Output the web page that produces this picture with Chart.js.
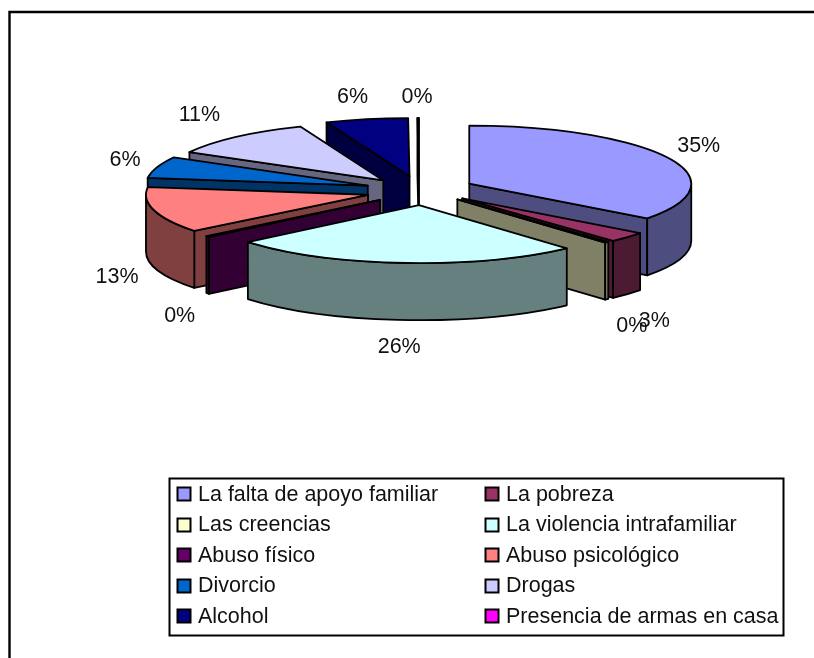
<!DOCTYPE html>
<html><head><meta charset="utf-8">
<style>html,body{margin:0;padding:0;background:#fff}canvas{display:block}</style>
<script src="https://cdn.jsdelivr.net/npm/chart.js@4"></script>
</head><body><canvas id="c" width="814" height="658"></canvas>
<script>
const categories = ["La falta de apoyo familiar","La pobreza","Las creencias","La violencia intrafamiliar","Abuso físico","Abuso psicológico","Divorcio","Drogas","Alcohol","Presencia de armas en casa"];
const values = [35.2,2.9,0.3,25.6,0.3,12.8,6.0,10.8,6.0,0.1];
const topColors = ["#9999ff","#993366","#ffffcc","#ccffff","#660066","#ff8080","#0066cc","#ccccff","#000080","#ff00ff"];
const sideColors = ["#4d4d80","#4d1a33","#808066","#668080","#330033","#804040","#003366","#666680","#000040","#800080"];
const labelNudges = [[31,-12],[27,84],[25,84],[-3,84],[-28,80],[-37,67],[-32,-7],[-37,-22],[-14,-22],[-1,-21]];
const perspectiveNudges = [[1,1],[2,0],[1,0],[3,2],[2,2],[0,2],[-1,1],[-1,2],[0,1],[-1,1]];

const CX = 420, CY = 189, RADIUS = 222, TILT = 0.2613, DEPTH = 57, EXPLODE = 54;
const INK = '#000', FONT = '21.5px "Liberation Sans", Arial, sans-serif';
const sy = y => CY + (y - CY) * TILT;

function topPath(ctx, a) {
  const y = sy(a.y);
  ctx.beginPath();
  ctx.moveTo(a.x, y);
  ctx.ellipse(a.x, y, a.outerRadius, a.outerRadius * TILT, 0, a.startAngle, a.endAngle);
  ctx.closePath();
}
function face(ctx, a, ang, color) {
  const y = sy(a.y), ox = a.x + a.outerRadius * Math.cos(ang), oy = y + a.outerRadius * TILT * Math.sin(ang);
  ctx.beginPath();
  ctx.moveTo(a.x, y); ctx.lineTo(ox, oy); ctx.lineTo(ox, oy + DEPTH); ctx.lineTo(a.x, y + DEPTH); ctx.closePath();
  ctx.fillStyle = color; ctx.fill(); ctx.stroke();
}
function wall(ctx, a, color) {
  const s = Math.max(a.startAngle, 0), e = Math.min(a.endAngle, Math.PI);
  if (e <= s) return;
  const y = sy(a.y), r = a.outerRadius;
  ctx.beginPath();
  ctx.ellipse(a.x, y, r, r * TILT, 0, s, e);
  ctx.ellipse(a.x, y + DEPTH, r, r * TILT, 0, e, s, true);
  ctx.closePath();
  ctx.fillStyle = color; ctx.fill(); ctx.stroke();
}

const pie3d = {
  id: 'pie3d',
  afterDatasetsUpdate(chart) {
    chart.getDatasetMeta(0).data.forEach((a, i) => {
      const mid = (a.startAngle + a.endAngle) / 2;
      a.x = CX + Math.cos(mid) * EXPLODE + perspectiveNudges[i][0];
      a.y = CY + Math.sin(mid) * EXPLODE + perspectiveNudges[i][1] / TILT;
    });
  },
  beforeDatasetsDraw(chart) {
    const ctx = chart.ctx, arcs = chart.getDatasetMeta(0).data;
    ctx.save();
    ctx.strokeStyle = INK; ctx.lineWidth = 1.8; ctx.lineJoin = 'round';
    arcs.map((a, i) => ({a, i})).sort((p, q) => p.a.y - q.a.y).forEach(({a, i}) => {
      if (Math.cos(a.startAngle) < 0) face(ctx, a, a.startAngle, sideColors[i]);
      if (Math.cos(a.endAngle) > 0) face(ctx, a, a.endAngle, sideColors[i]);
      wall(ctx, a, sideColors[i]);
    });
    ctx.restore();
  },
  beforeDatasetDraw(chart) {
    const ctx = chart.ctx;
    ctx.save();
    ctx.translate(0, CY); ctx.scale(1, TILT); ctx.translate(0, -CY);
  },
  afterDatasetDraw(chart) { chart.ctx.restore(); },
  afterDatasetsDraw(chart) {
    const ctx = chart.ctx, arcs = chart.getDatasetMeta(0).data;
    ctx.save();
    ctx.strokeStyle = INK; ctx.lineWidth = 1.8; ctx.lineJoin = 'round';
    arcs.forEach(a => { topPath(ctx, a); ctx.stroke(); });
    ctx.restore();
  },
  afterDraw(chart) {
    const ctx = chart.ctx, arcs = chart.getDatasetMeta(0).data;
    const total = values.reduce((s, v) => s + v, 0);
    ctx.save();
    ctx.strokeStyle = INK; ctx.lineWidth = 2.4;
    ctx.beginPath(); ctx.moveTo(9.5, 658); ctx.lineTo(9.5, 12); ctx.lineTo(814, 12); ctx.stroke();
    ctx.font = FONT; ctx.fillStyle = '#111'; ctx.textAlign = 'center'; ctx.textBaseline = 'middle';
    arcs.forEach((a, i) => {
      const mid = (a.startAngle + a.endAngle) / 2;
      const x = a.x + a.outerRadius * Math.cos(mid) + labelNudges[i][0];
      const y = sy(a.y) + a.outerRadius * TILT * Math.sin(mid) + labelNudges[i][1];
      ctx.fillText(Math.round(values[i] / total * 100) + '%', x, y);
    });
    ctx.lineWidth = 2; ctx.fillStyle = '#fff';
    ctx.beginPath(); ctx.rect(169.5, 478.5, 614, 157); ctx.fill(); ctx.stroke();
    ctx.textAlign = 'left';
    categories.forEach((name, i) => {
      const col = i % 2, row = Math.floor(i / 2);
      const bx = col ? 485.5 : 177.5, cy = 494 + row * 30.5;
      ctx.fillStyle = topColors[i];
      ctx.beginPath(); ctx.rect(bx, Math.round(cy) - 6.5, 13, 13); ctx.fill(); ctx.stroke();
      ctx.fillStyle = '#111';
      ctx.fillText(name, bx + 20.5, cy + 1);
    });
    ctx.restore();
  }
};

new Chart(document.getElementById('c'), {
  type: 'pie',
  data: { labels: categories, datasets: [{ data: values, backgroundColor: topColors, borderWidth: 0, clip: false }] },
  options: {
    responsive: false, animation: false, radius: RADIUS,
    layout: { padding: { left: 0, right: 814 - 2 * CX, top: 0, bottom: 658 - 2 * CY } },
    plugins: { legend: { display: false }, tooltip: { enabled: false } }
  },
  plugins: [pie3d]
});
</script></body></html>
